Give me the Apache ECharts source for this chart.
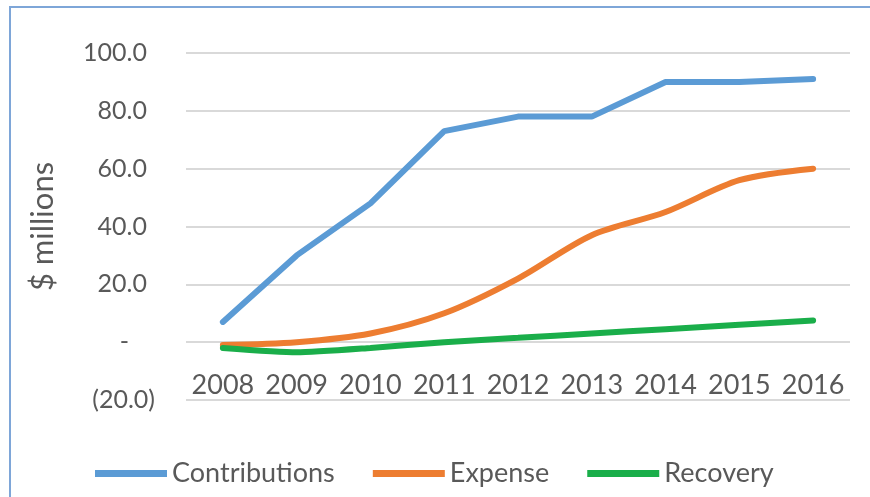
<!DOCTYPE html>
<html>
<head>
<meta charset="utf-8">
<script src="https://cdn.jsdelivr.net/npm/echarts@6/dist/echarts.min.js"></script>
<style>
  html, body { margin: 0; padding: 0; background: #fff; }
  #main { width: 870px; height: 497px; }
</style>
</head>
<body>
<div id="main"></div>
<script>
// data ($ millions)
const years = ['2008', '2009', '2010', '2011', '2012', '2013', '2014', '2015', '2016'];
const contributions = [7, 30, 48, 73, 78, 78, 90, 90, 91];
const expense = [-1, 0, 3, 10, 22, 37, 45, 56, 60];
const recovery = [-2, -3.5, -2, 0, 1.5, 3, 4.5, 6, 7.5];

const font = 'Lato';
const grey = '#595959';

// accounting style labels: "-" for zero, brackets for negatives
const yLabel = v => {
  if (v === 0) return '{z|-}';
  if (v < 0) return '{n|(' + Math.abs(v).toFixed(1) + ')}';
  return '{p|' + v.toFixed(1) + '}';
};

const chart = echarts.init(document.getElementById('main'));
chart.setOption({
  animation: false,
  textStyle: { fontFamily: font },
  graphic: [{
    type: 'rect',
    shape: { x: 10, y: 7, width: 900, height: 600 },
    style: { fill: 'none', stroke: '#7ea6d8', lineWidth: 2 }
  }],
  grid: { left: 186, right: 20, top: 53, bottom: 97 },
  legend: {
    left: 90, top: 455,
    icon: 'rect',
    itemWidth: 72, itemHeight: 7, itemGap: 38,
    textStyle: { fontFamily: font, fontSize: 27, color: grey, padding: [0, 0, 0, 0] }
  },
  xAxis: {
    type: 'category',
    data: years,
    axisLine: { show: false },
    axisTick: { show: false },
    axisLabel: { interval: 0, margin: -28, fontSize: 27, color: grey, fontFamily: font }
  },
  yAxis: {
    type: 'value',
    min: -20, max: 100, interval: 20,
    name: '$ millions',
    nameLocation: 'middle',
    nameGap: 128,
    nameTextStyle: { fontSize: 31, color: grey, fontFamily: font },
    splitLine: { lineStyle: { color: '#d9d9d9', width: 2 } },
    axisLabel: {
      margin: 31,
      formatter: yLabel,
      rich: {
        p: { fontSize: 25, color: grey, fontFamily: font, padding: [0, 8, 0, 0] },
        n: { fontSize: 25, color: grey, fontFamily: font },
        z: { fontSize: 25, color: grey, fontFamily: font, padding: [0, 26, 0, 0] }
      }
    }
  },
  series: [
    { name: 'Contributions', type: 'line', data: contributions, symbol: 'none',
      lineStyle: { width: 6, color: '#5b9bd5', cap: 'round' }, itemStyle: { color: '#5b9bd5' } },
    { name: 'Expense', type: 'line', data: expense, symbol: 'none', smooth: 0.3,
      lineStyle: { width: 6, color: '#ed7d31', cap: 'round' }, itemStyle: { color: '#ed7d31' } },
    { name: 'Recovery', type: 'line', data: recovery, symbol: 'none', smooth: 0.2,
      lineStyle: { width: 6, color: '#1aae4a', cap: 'round' }, itemStyle: { color: '#1aae4a' } }
  ]
});
</script>
</body>
</html>
